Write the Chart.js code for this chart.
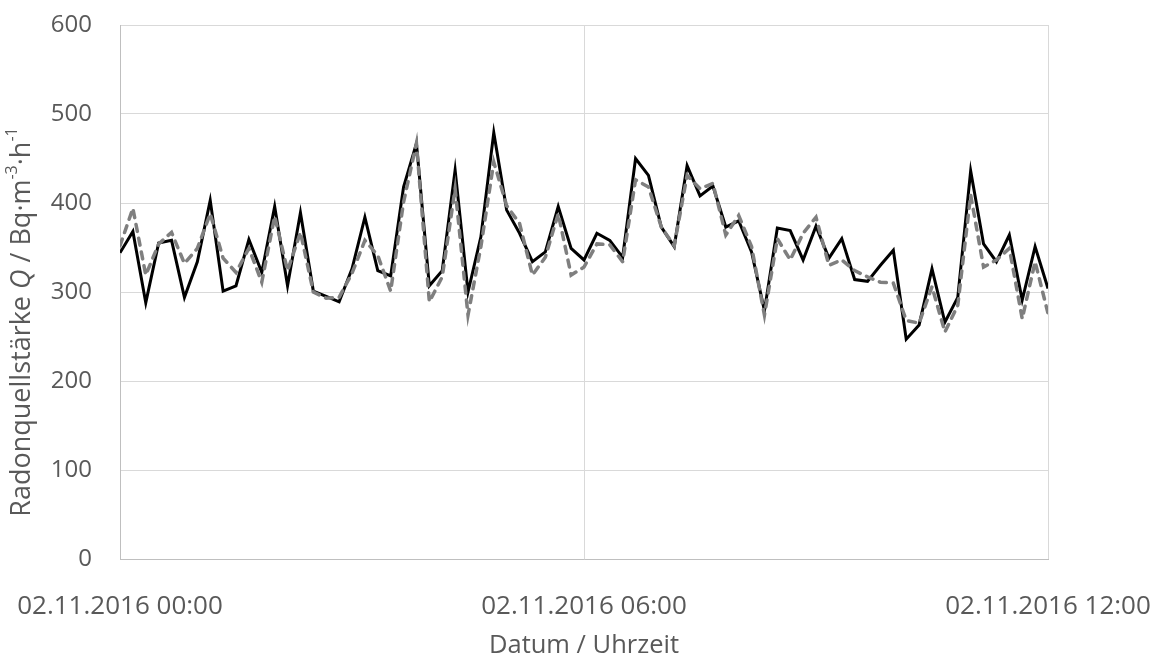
<!DOCTYPE html>
<html>
<head>
<meta charset="utf-8">
<script src="https://cdn.jsdelivr.net/npm/chart.js@4.4.1/dist/chart.umd.min.js"></script>
<style>
  html, body { margin: 0; padding: 0; background: #fff; }
  #wrap { width: 1158px; height: 653px; }
</style>
</head>
<body>
<div id="wrap"><canvas id="radonChart"></canvas></div>
<script>
// 10-minute values, 02.11.2016 00:00 - 12:00
const intervalMinutes = 10;
const tickLabels = ['02.11.2016 00:00', '02.11.2016 06:00', '02.11.2016 12:00'];

const quelleGemessen = [
  344, 368, 288, 355, 358, 294, 334, 403, 301, 307, 359, 322, 396,
  307, 389, 301, 295, 289, 326, 384, 324, 318, 418, 467, 307, 324,
  437, 300, 362, 479, 392, 366, 334, 345, 396, 349, 336, 366, 358,
  339, 450, 431, 373, 351, 442, 408, 419, 373, 380, 345, 279, 372,
  369, 336, 374, 338, 360, 314, 312, 330, 347, 247, 263, 326, 266,
  294, 436, 354, 334, 364, 291, 351, 304
];

const quelleModell = [
  352, 394, 319, 354, 367, 332, 349, 388, 338, 322, 349, 311, 385,
  324, 367, 300, 293, 294, 321, 358, 341, 301, 401, 467, 289, 317,
  416, 274, 351, 446, 397, 377, 319, 339, 388, 319, 328, 354, 353,
  334, 426, 418, 373, 352, 431, 416, 422, 364, 386, 351, 274, 360,
  336, 366, 384, 330, 336, 324, 317, 311, 310, 268, 265, 306, 255,
  285, 409, 328, 336, 349, 270, 334, 276
];

const toPoints = vals => vals.map((v, i) => ({ x: i * intervalMinutes, y: v }));

// y axis title with italic Q and superscripts
const yTitlePlugin = {
  id: 'yTitle',
  afterDraw(chart) {
    const ctx = chart.ctx;
    const size = 27;
    const normal = size + 'px "Open Sans"';
    const italic = 'italic ' + size + 'px "Open Sans"';
    const small = Math.round(size * 0.6) + 'px "Open Sans"';
    const parts = [
      { t: 'Radonquellstärke ', f: normal, dy: 0 },
      { t: 'Q', f: italic, dy: 0 },
      { t: ' / Bq·m', f: normal, dy: 0 },
      { t: '-3', f: small, dy: -10 },
      { t: '·h', f: normal, dy: 0 },
      { t: '-1', f: small, dy: -10 }
    ];
    ctx.save();
    let total = 0;
    parts.forEach(p => { ctx.font = p.f; p.w = ctx.measureText(p.t).width; total += p.w; });
    ctx.translate(22, 322);
    ctx.rotate(-Math.PI / 2);
    ctx.fillStyle = '#595959';
    ctx.textBaseline = 'middle';
    ctx.textAlign = 'left';
    let x = -total / 2;
    parts.forEach(p => {
      ctx.font = p.f;
      ctx.fillText(p.t, x, p.dy);
      x += p.w;
    });
    ctx.restore();
  }
};

new Chart(document.getElementById('radonChart'), {
  type: 'line',
  data: {
    datasets: [
      {
        label: 'gemessen',
        data: toPoints(quelleGemessen),
        borderColor: '#000000',
        borderWidth: 3,
        pointRadius: 0,
        tension: 0,
        order: 2
      },
      {
        label: 'Modell',
        data: toPoints(quelleModell),
        borderColor: '#7f7f7f',
        borderWidth: 3.5,
        borderDash: [7, 7],
        borderCapStyle: 'round',
        pointRadius: 0,
        tension: 0,
        order: 1
      }
    ]
  },
  options: {
    responsive: true,
    maintainAspectRatio: false,
    animation: false,
    layout: { padding: { top: 25, right: 0, left: 0, bottom: 0 } },
    plugins: {
      legend: { display: false },
      tooltip: { enabled: false }
    },
    scales: {
      x: {
        type: 'linear',
        min: 0,
        max: 720,
        grid: { color: '#d9d9d9', lineWidth: 1, drawTicks: false },
        border: { color: '#bfbfbf', width: 1 },
        ticks: {
          stepSize: 360,
          autoSkip: false,
          maxRotation: 0,
          padding: 32,
          color: '#595959',
          font: { family: 'Open Sans', size: 26 },
          callback: v => tickLabels[v / 360]
        },
        title: {
          display: true,
          text: 'Datum / Uhrzeit',
          color: '#595959',
          font: { family: 'Open Sans', size: 25.5, lineHeight: 0.55 },
          padding: 0
        },
        afterFit(scale) {
          scale.height = 94;
          scale.paddingRight = 110;
          scale.paddingLeft = 0;
        }
      },
      y: {
        min: 0,
        max: 600,
        grid: { color: '#d9d9d9', lineWidth: 1, drawTicks: false },
        border: { color: '#bfbfbf', width: 1 },
        ticks: {
          stepSize: 100,
          padding: 28,
          color: '#595959',
          font: { family: 'Open Sans', size: 24 }
        },
        afterFit(scale) {
          scale.width = 120;
          scale.paddingTop = 0;
          scale.paddingBottom = 0;
        }
      }
    }
  },
  plugins: [yTitlePlugin]
});
</script>
</body>
</html>
